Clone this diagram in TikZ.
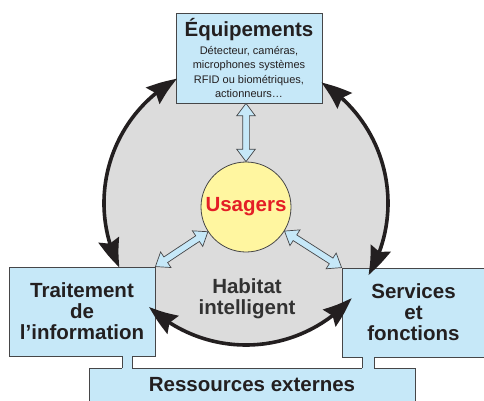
\documentclass[tikz,border=0pt]{standalone}
\usepackage{fontspec}
\setmainfont{Liberation Sans}
\usetikzlibrary{arrows.meta,bending,shapes.arrows,calc}

\definecolor{bleuclair}{RGB}{198,232,248}
\definecolor{grisfond}{RGB}{220,220,220}
\definecolor{jaune}{RGB}{255,246,160}
\definecolor{rouge}{RGB}{228,30,38}
\definecolor{encre}{RGB}{35,31,32}
\definecolor{bordure}{RGB}{70,70,72}

\newcommand{\titre}{\bfseries\fontsize{20.5}{21}\selectfont}
\newcommand{\petit}{\mdseries\fontsize{11}{14.3}\selectfont}

\begin{document}
\begin{tikzpicture}[
    x=1pt, y=1pt,
    pointe/.tip={Stealth[length=30pt, width=21pt, inset=4pt]},
    bloc/.style={draw=bordure, line width=0.8pt, fill=bleuclair, inner sep=0pt, align=center, text=encre, font=\titre}, % Cadres bleus
    fleche/.style={draw=encre, line width=3.6pt, arrows={pointe[bend]-pointe[bend]}}, % Fleches noires
    lien/.style={double arrow, draw=bordure, fill=bleuclair, line width=0.7pt, inner xsep=0pt, inner ysep=3pt,
        double arrow head extend=6pt, double arrow tip angle=74}, % Fleches bleues
  ]
  \useasboundingbox (0,0) rectangle (484,-401);

  % Habitat (disque gris)
  \node[circle, fill=grisfond, minimum size=284pt, inner sep=0pt, outer sep=0pt] (hab) at (246,-203) {};

  % Cadres
  \node[bloc, minimum width=146pt, minimum height=89pt] (tr) at (82,-311.5) {Traitement\\de\\l’information};
  \node[bloc, minimum width=143pt, minimum height=89pt] (se) at (413.5,-312.5) {Services\\et\\fonctions};
  \node[bloc, minimum width=326pt, minimum height=34pt] (res) at (252,-385) {Ressources externes};
  \fill[bleuclair] (122,-355.4) rectangle (132,-368.6);
  \fill[bleuclair] (362,-356.4) rectangle (374,-368.6);
  \draw[bordure, line width=0.8pt] (122,-356) -- (122,-368) (132,-356) -- (132,-368)
    (362,-357) -- (362,-368) (374,-357) -- (374,-368);
  \node[bloc, font=\petit, minimum width=146pt, minimum height=90pt] (eq) at (249,-58)
    {\titre Équipements\\[3.7pt]Détecteur, caméras,\\microphones systèmes\\RFID ou biométriques,\\actionneurs…};

  % Fleches du cycle
  \draw[fleche] (hab.207) arc[start angle=207, end angle=119, radius=142pt];
  \draw[fleche] (hab.58) arc[start angle=58, end angle=-30.5, radius=142pt];
  \draw[fleche] (hab.227) arc[start angle=227, end angle=318, radius=142pt];

  % Usagers
  \node[circle, draw=bordure, line width=0.8pt, fill=jaune, minimum size=90pt, inner sep=0pt, font=\titre, text=rouge] (us) at (246,-207) {Usagers};
  \coordinate (eqbas) at (us.north |- eq.south);

  \foreach \de/\vers in {us.north/eqbas, us.213/tr.north east, us.328/se.north west}
    \path let \p1=(\de), \p2=(\vers), \n1={veclen(\x2-\x1,\y2-\y1)}, \n2={atan2(\y2-\y1,\x2-\x1)} in
      node[lien, minimum height=\n1, rotate=\n2] at ($(\p1)!.5!(\p2)$) {};

  \node[align=center, font=\titre, text={rgb,255:red,50;green,50;blue,50}] (habtxt) at (247,-298.7) {Habitat\\intelligent};
\end{tikzpicture}
\end{document}
